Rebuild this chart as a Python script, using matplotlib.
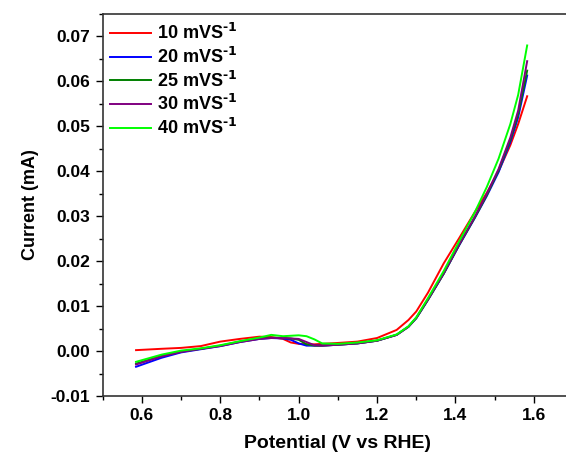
import numpy as np
import matplotlib
matplotlib.use("Agg")
import matplotlib.pyplot as plt
from matplotlib.ticker import MultipleLocator

plt.rcParams["font.family"] = ["Liberation Sans", "DejaVu Sans"]
plt.rcParams["font.weight"] = "bold"
plt.rcParams["mathtext.default"] = "regular"

# Potential (V vs RHE)
potential = [0.585, 0.65, 0.70, 0.75, 0.80, 0.85, 0.90, 0.93, 0.96, 0.98, 1.00,
             1.02, 1.04, 1.06, 1.10, 1.15, 1.20, 1.25, 1.28, 1.30, 1.33, 1.37,
             1.41, 1.45, 1.48, 1.51, 1.54, 1.56, 1.583]

# Current (mA) for each scan rate
cur_10 = [0.0002, 0.0005, 0.0007, 0.0011, 0.0021, 0.0027, 0.0032, 0.0031, 0.0027,
          0.0019, 0.0016, 0.0015, 0.0015, 0.0016, 0.0018, 0.0021, 0.0029, 0.0047,
          0.0069, 0.0088, 0.0130, 0.0195, 0.0252, 0.0310, 0.0352, 0.0400, 0.0458,
          0.0505, 0.0567]
cur_20 = [-0.0035, -0.0015, -0.0003, 0.0004, 0.0011, 0.0020, 0.0027, 0.0029, 0.0028,
          0.0025, 0.0017, 0.0012, 0.0012, 0.0012, 0.0014, 0.0017, 0.0023, 0.0036,
          0.0054, 0.0073, 0.0114, 0.0172, 0.0236, 0.0297, 0.0345, 0.0398, 0.0465,
          0.0520, 0.0613]
cur_25 = [-0.0028, -0.0011, -0.0001, 0.0005, 0.0012, 0.0021, 0.0028, 0.0030, 0.0029,
          0.0028, 0.0025, 0.0015, 0.0012, 0.0012, 0.0014, 0.0017, 0.0023, 0.0036,
          0.0054, 0.0073, 0.0114, 0.0172, 0.0237, 0.0298, 0.0347, 0.0402, 0.0470,
          0.0527, 0.0624]
cur_30 = [-0.0030, -0.0012, -0.0002, 0.0005, 0.0011, 0.0020, 0.0027, 0.0029, 0.0029,
          0.0028, 0.0027, 0.0020, 0.0013, 0.0012, 0.0014, 0.0017, 0.0023, 0.0036,
          0.0054, 0.0074, 0.0115, 0.0173, 0.0238, 0.0300, 0.0350, 0.0405, 0.0475,
          0.0535, 0.0645]
cur_40 = [-0.0024, -0.0008, 0.0001, 0.0006, 0.0013, 0.0022, 0.0030, 0.0036, 0.0033,
          0.0034, 0.0035, 0.0033, 0.0026, 0.0017, 0.0016, 0.0019, 0.0024, 0.0037,
          0.0055, 0.0075, 0.0118, 0.0178, 0.0245, 0.0310, 0.0365, 0.0428, 0.0505,
          0.0570, 0.0680]

labels = [r"10 mVS$^{\text{-1}}$", r"20 mVS$^{\text{-1}}$", r"25 mVS$^{\text{-1}}$",
          r"30 mVS$^{\text{-1}}$", r"40 mVS$^{\text{-1}}$"]
colors = ["#FF0000", "#0000FF", "#008000", "#800080", "#00FF00"]
series = [cur_10, cur_20, cur_25, cur_30, cur_40]

fig = plt.figure(figsize=(5.66, 4.59), dpi=100)
ax = fig.add_axes([0.1815, 0.1373, 1.0124 - 0.1815, 0.9695 - 0.1373])

for y, c, lab in zip(series, colors, labels):
    ax.plot(potential, y, color=c, lw=1.4, label=lab)

ax.set_xlim(0.5, 1.7)
ax.set_ylim(-0.01, 0.075)
ax.xaxis.set_minor_locator(MultipleLocator(0.1))
ax.yaxis.set_minor_locator(MultipleLocator(0.005))
ax.set_xticks([0.6, 0.8, 1.0, 1.2, 1.4, 1.6])
ax.set_xticklabels(["0.6", "0.8", "1.0", "1.2", "1.4", "1.6"])
ax.set_yticks([-0.01, 0.0, 0.01, 0.02, 0.03, 0.04, 0.05, 0.06, 0.07])
ax.set_yticklabels(["-0.01", "0.00", "0.01", "0.02", "0.03", "0.04", "0.05", "0.06", "0.07"])

ax.tick_params(which="major", direction="out", length=5, width=1, labelsize=12.5, pad=4)
ax.tick_params(which="minor", direction="out", length=3, width=1)
for s in ax.spines.values():
    s.set_linewidth(1.2)
    s.set_color("#333333")

ax.set_xlabel("Potential (V vs RHE)", fontsize=14, fontweight="bold", labelpad=8)
ax.set_ylabel("Current (mA)", fontsize=13, fontweight="bold", labelpad=8)

ax.legend(loc="upper left", frameon=False, fontsize=13, handlelength=2.3,
          handletextpad=0.3, labelspacing=0.2, borderaxespad=0.0,
          bbox_to_anchor=(0.0, 0.995))

plt.savefig("out.png", dpi=100)
